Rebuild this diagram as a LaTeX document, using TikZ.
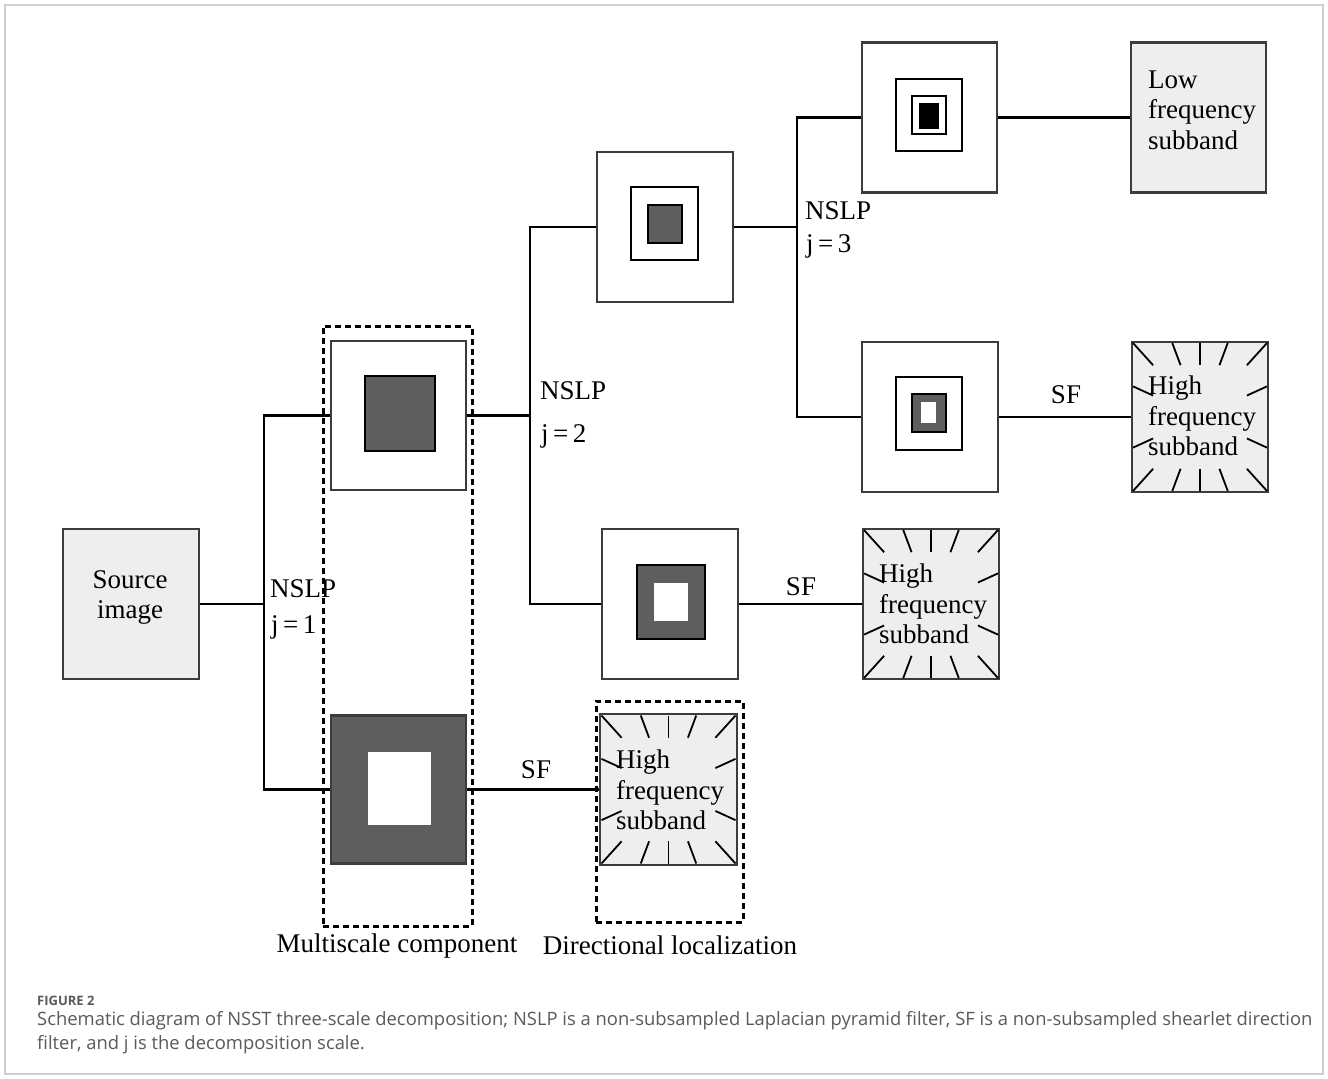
\documentclass[tikz,border=0pt]{standalone}
\usepackage{fontspec}
\newfontfamily\tms{Liberation Serif}
\newfontfamily\capf{Open Sans}
\definecolor{bord}{HTML}{3C3C3C}
\definecolor{dk}{HTML}{5E5E5E}
\definecolor{lg}{HTML}{EEEEEE}
\definecolor{capc}{HTML}{5A5A5A}
\definecolor{frm}{HTML}{CFCFCF}
\tikzset{
  box/.style={draw=bord, line width=2.2pt, fill=white, inner sep=0pt, minimum width=136pt, minimum height=150pt},
  graybox/.style={box, fill=lg},
  sq/.style={draw=black, line width=1.6pt, inner sep=0pt},
  conn/.style={draw=black, line width=2.8pt},
  raystroke/.style={draw=black, line width=1.8pt},
  dashbox/.style={draw=black, line width=3pt, dash pattern=on 6pt off 4pt},
  lbl/.style={font=\tms\fontsize{27}{30}\selectfont, inner sep=0pt},
  lblL/.style={lbl, anchor=west},
  txt/.style={font=\tms\fontsize{27}{30.5}\selectfont, inner sep=0pt, align=left, anchor=west}
}
\newcommand{\hfrays}[1]{%
  \begin{scope}[shift={(#1.center)}, x=67pt, y=74pt]
    \foreach \ia/\ib/\oa/\ob in {0/0.7/0/1, 0/-0.7/0/-1,
      0.7/0.7/1/1, 0.7/-0.7/1/-1, -0.7/0.7/-1/1, -0.7/-0.7/-1/-1,
      0.7/0.29/1/0.414, 0.7/-0.29/1/-0.414, -0.7/0.29/-1/0.414, -0.7/-0.29/-1/-0.414,
      0.29/0.7/0.414/1, -0.29/0.7/-0.414/1, 0.29/-0.7/0.414/-1, -0.29/-0.7/-0.414/-1}
      \draw[raystroke] (\ia,\ib) -- (\oa,\ob);
  \end{scope}}
\begin{document}
\begin{tikzpicture}[x=1pt,y=-1pt]
\useasboundingbox (0,0) rectangle (1328,1079);
\fill[white] (0,0) rectangle (1328,1079);
\draw[frm, line width=1.5pt] (5,5) rectangle (1323,1074);

% dashed groups
\node[dashbox, inner sep=0pt, minimum width=149pt, minimum height=600pt] (msc) at (397.5,626) {};
\node[dashbox, inner sep=0pt, minimum width=147pt, minimum height=221pt] (dlc) at (669.5,811.5) {};

% source
\node[graybox] (src) at (131,604) {};
\node[lbl, align=center] (srct) at (130,597) {Source\\image};

% scale 1
\node[box, minimum width=135pt, minimum height=149pt] (A) at (398.5,415.5) {};
\node[sq, fill=dk, minimum width=70pt, minimum height=75pt] (Ai) at (400,413.5) {};
\node[box, fill=dk, minimum width=135pt, minimum height=148pt] (B) at (398.5,789.5) {};
\node[sq, fill=white, draw=dk, minimum width=65pt, minimum height=75pt] (Bi) at (399.5,788.5) {};

% scale 2
\node[box] (C) at (665,227) {};
\node[sq, fill=white, minimum width=67pt, minimum height=73pt] (Ci) at (664.5,223.5) {};
\node[sq, fill=dk, minimum width=34pt, minimum height=38pt] (Cii) at (665,224) {};
\node[box] (D) at (670,604) {};
\node[sq, fill=dk, minimum width=68pt, minimum height=74pt] (Di) at (671,602) {};
\node[sq, fill=white, draw=dk, minimum width=36pt, minimum height=40pt] (Dii) at (671,602) {};

% scale 3
\node[box, minimum width=135pt] (E) at (929.5,117.5) {};
\node[sq, fill=white, minimum width=66pt, minimum height=72pt] (Ei) at (929,115) {};
\node[sq, fill=white, minimum width=34pt, minimum height=38pt] (Eii) at (929,115) {};
\node[sq, fill=black, minimum width=18pt, minimum height=24pt] (Eiii) at (929,116) {};
\node[box] (F) at (930,417) {};
\node[sq, fill=white, minimum width=66pt, minimum height=73pt] (Fi) at (929,413.5) {};
\node[sq, fill=dk, minimum width=34pt, minimum height=38pt] (Fii) at (929,413) {};
\node[sq, fill=white, draw=dk, minimum width=17pt, minimum height=23pt] (Fiii) at (928.5,412.5) {};

% outputs
\node[graybox, minimum width=135pt] (LF) at (1198.5,117.5) {};
\node[graybox, minimum width=137pt, minimum height=151pt] (HF1) at (668.5,789.5) {};
\node[graybox] (HF2) at (931,604) {};
\node[graybox] (HF3) at (1200,417) {};
\hfrays{HF1}
\hfrays{HF2}
\hfrays{HF3}

% connectors
\coordinate (s1) at (264,604);
\coordinate (s2) at (530,415.5);
\coordinate (s3) at (797,227);
\draw[conn] (src.east) -- (s1);
\draw[conn] (A.west) -| (s1) |- (B.west);
\draw[conn] (A.east) -- (s2);
\draw[conn] (C.west) -| (s2) |- (D.west);
\draw[conn] (C.east) -- (s3);
\draw[conn] (E.west) -| (s3) |- (F.west);
\draw[conn] (E.east) -- (LF.west);
\draw[conn] (F.east) -- (HF3.west);
\draw[conn] (D.east) -- (HF2.west);
\draw[conn] (B.east) -- (HF1.west);

% labels
\node[lblL] (n1) at (270,589) {NSLP};
\node[lblL] (j1) at (271,627) {j\,=\,1};
\node[lblL] (n2) at (540,391) {NSLP};
\node[lblL] (j2) at (541,436) {j\,=\,2};
\node[lblL] (n3) at (805,211) {NSLP};
\node[lblL] (j3) at (806,246) {j\,=\,3};
\node[lbl] (sf1) at (536,770) {SF};
\node[lbl] (sf2) at (801,587) {SF};
\node[lbl] (sf3) at (1066,395) {SF};

\node[txt] (lft) at (1148,110) {Low\\frequency\\subband};
\node[txt] (h1t) at (616,790) {High\\frequency\\subband};
\node[txt] (h2t) at (879,604) {High\\frequency\\subband};
\node[txt] (h3t) at (1148,416) {High\\frequency\\subband};

\node[lbl] (mcl) at (397,946) {Multiscale component};
\node[lbl] (dll) at (670,945) {Directional localization};

% caption
\node[anchor=west, inner sep=0pt, text=capc, font=\capf\bfseries\fontsize{13}{15}\selectfont] (fig) at (37,1001) {FIGURE 2};
\node[anchor=west, inner sep=0pt, text=capc, font=\capf\fontsize{18.4}{24}\selectfont] (cap1) at (37,1021) {Schematic diagram of NSST three-scale decomposition; NSLP is a non-subsampled Laplacian pyramid filter, SF is a non-subsampled shearlet direction};
\node[anchor=west, inner sep=0pt, text=capc, font=\capf\fontsize{18.4}{24}\selectfont] (cap2) at (37,1045) {filter, and j is the decomposition scale.};
\end{tikzpicture}
\end{document}
